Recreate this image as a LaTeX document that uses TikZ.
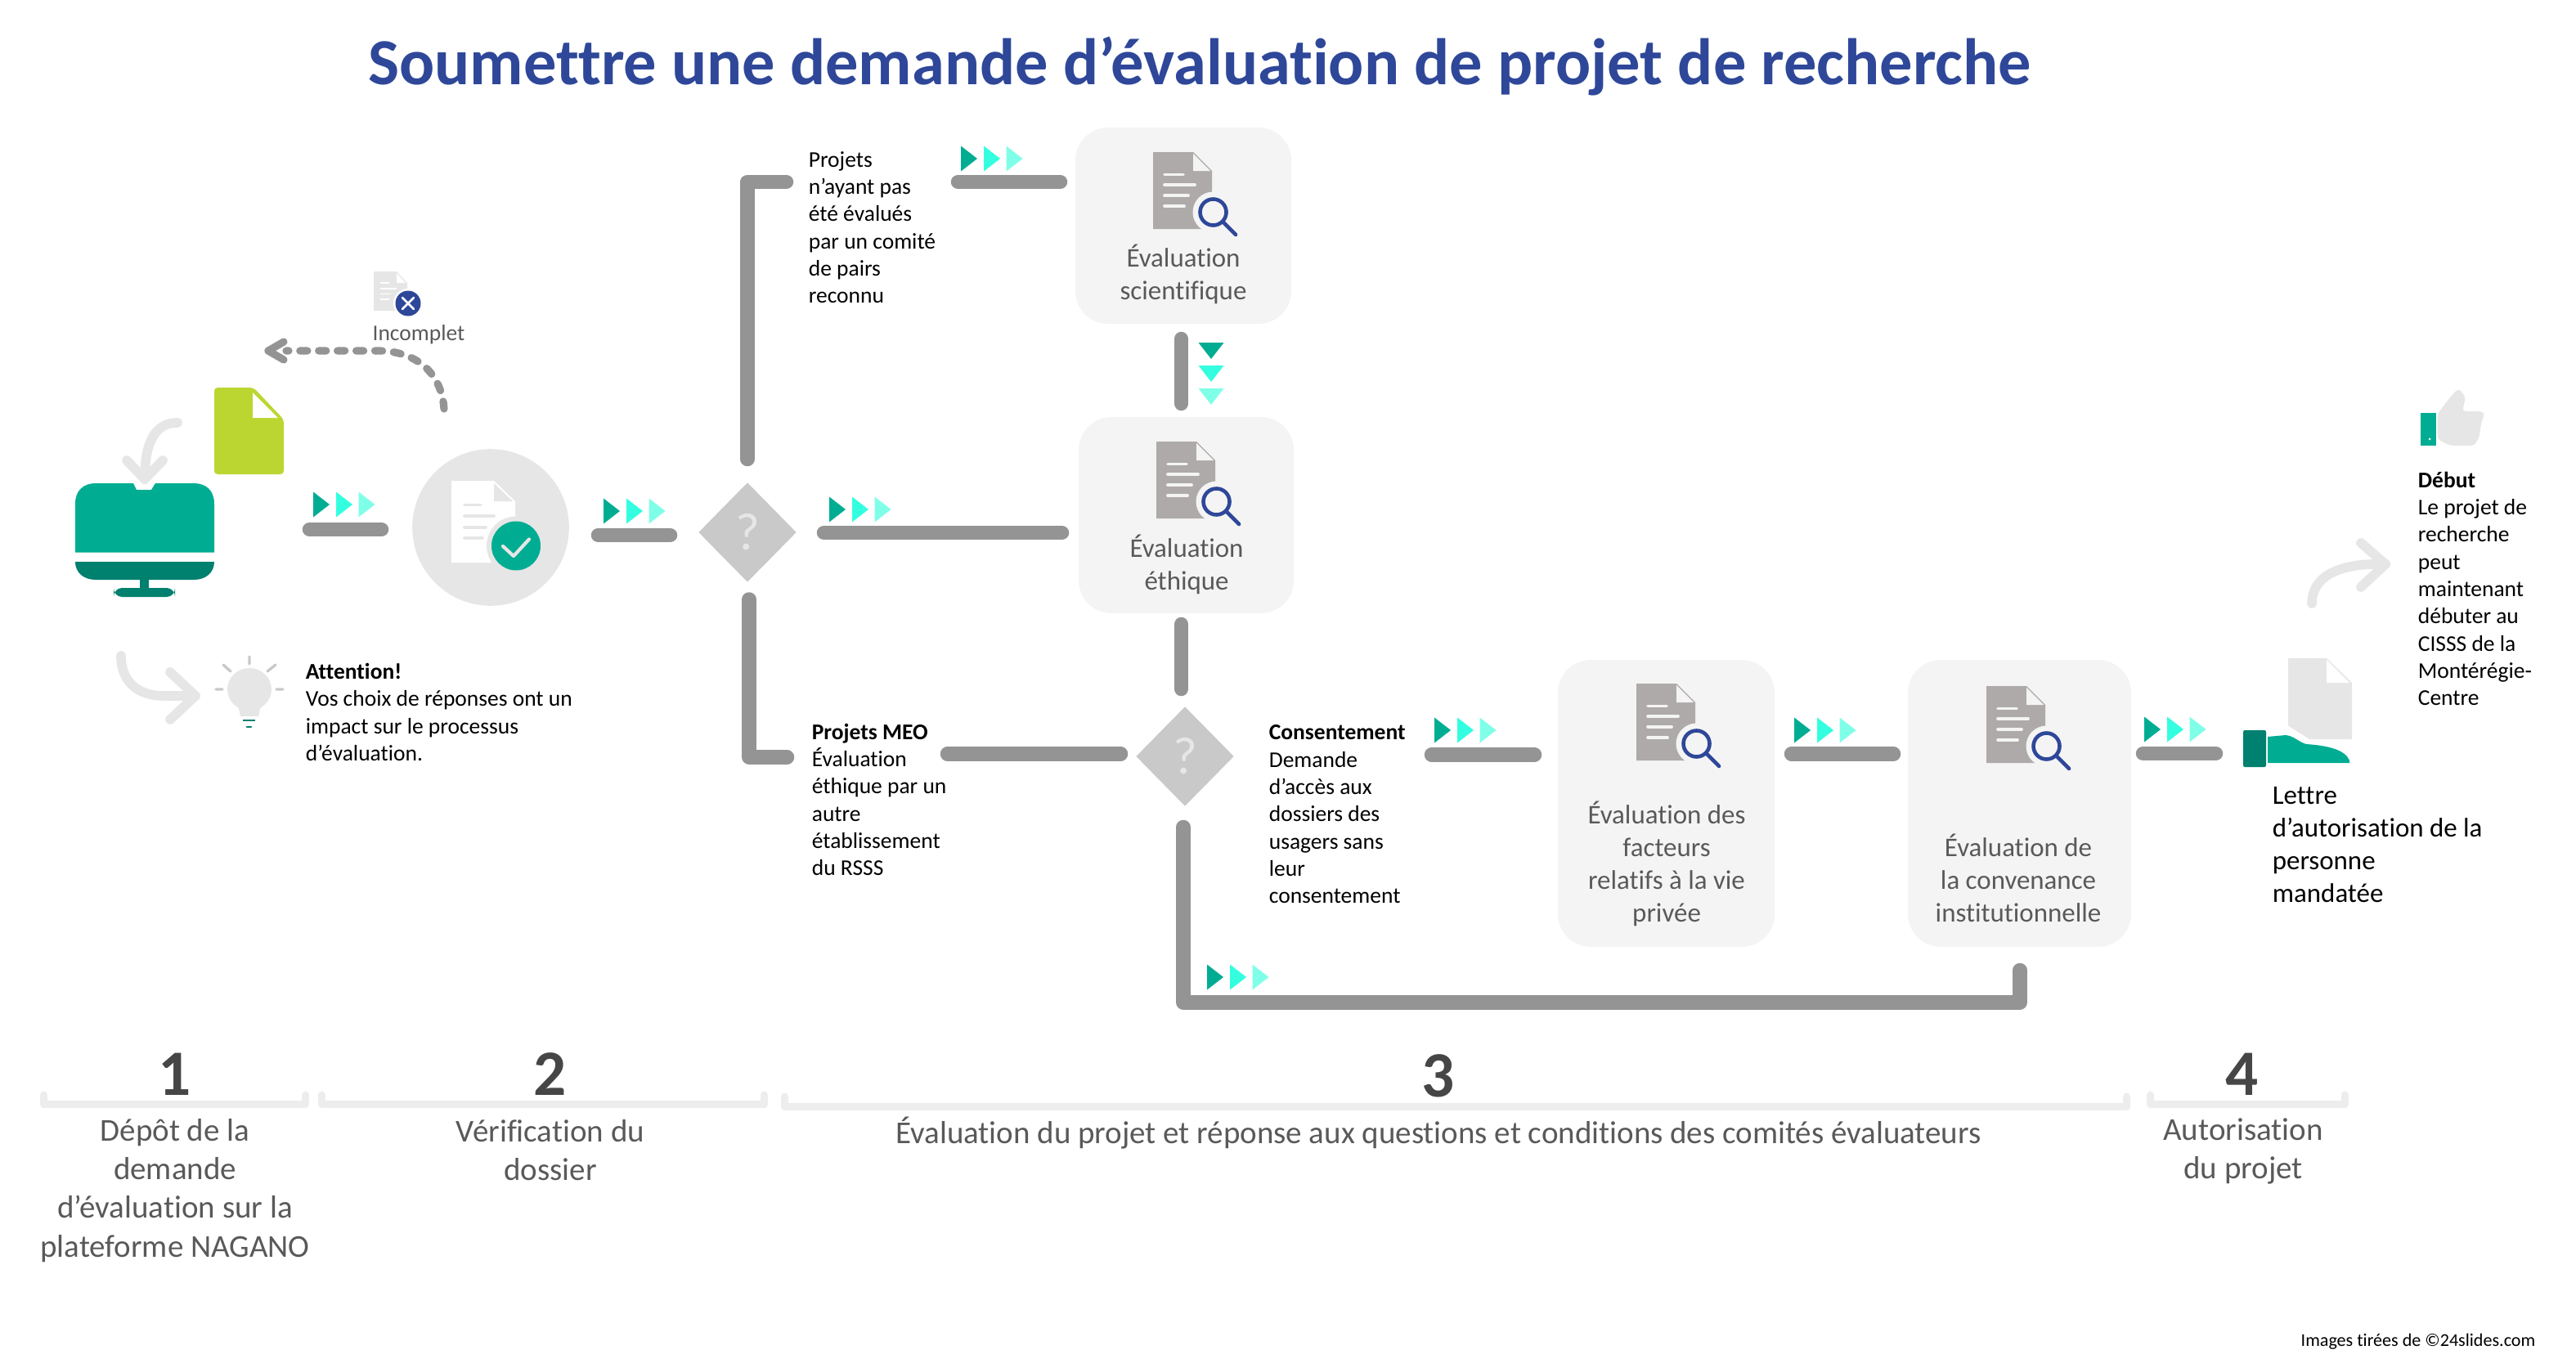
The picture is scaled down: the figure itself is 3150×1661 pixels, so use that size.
\documentclass[tikz,border=0pt]{standalone}
\usepackage{fontspec}
\setmainfont{Carlito}[Ligatures=NoCommon]
\usetikzlibrary{shapes.geometric}

\definecolor{tealA}{RGB}{0,173,147}
\definecolor{tealB}{RGB}{51,255,224}
\definecolor{tealC}{RGB}{128,255,232}
\definecolor{tealDark}{RGB}{0,128,110}
\definecolor{barGrey}{RGB}{148,148,148}
\definecolor{softGrey}{RGB}{230,230,230}
\definecolor{boxGrey}{RGB}{244,244,244}
\definecolor{braceGrey}{RGB}{237,237,237}
\definecolor{docGrey}{RGB}{174,170,169}
\definecolor{diamGrey}{RGB}{201,201,201}
\definecolor{textGrey}{RGB}{89,89,89}
\definecolor{numGrey}{RGB}{70,70,70}
\definecolor{navyBlue}{RGB}{46,71,153}
\definecolor{limeGreen}{RGB}{188,214,49}

\tikzset{
	barline/.style={draw=barGrey,line width=4.2pt,line cap=round,line join=round},
	softline/.style={draw=softGrey,line width=2.8pt,line cap=round,line join=round},
	dashline/.style={draw=barGrey,line width=2.2pt,line cap=round,line join=round},
	braceline/.style={draw=braceGrey,line width=2.2pt,line cap=round,line join=round},
	evalbox/.style={fill=boxGrey,rounded corners=9.6pt,inner sep=0pt},
	question/.style={diamond,fill=diamGrey,text=softGrey,inner sep=0pt,minimum width=28.8pt,minimum height=29.3pt,font=\fontsize{15.5}{16}\selectfont},
	smalltext/.style={anchor=west,align=left,inner sep=0pt,font=\fontsize{6.6}{8}\selectfont},
	boxtext/.style={align=center,inner sep=0pt,text=textGrey,font=\fontsize{7.9}{9.6}\selectfont},
	steptext/.style={align=center,inner sep=0pt,text=textGrey,font=\fontsize{9.35}{11.3}\selectfont},
	stepnum/.style={anchor=base,inner sep=0pt,text=numGrey,font=\fontsize{19}{20}\selectfont\bfseries},
}

% three triangles pointing right: left edge, middle height
\newcommand{\tripleright}[2]{
	\fill[tealA] (#1,#2-15.5) -- (#1+20,#2) -- (#1,#2+15.5) -- cycle;
	\fill[tealB] (#1+28,#2-15.5) -- (#1+48,#2) -- (#1+28,#2+15.5) -- cycle;
	\fill[tealC] (#1+55.5,#2-15.5) -- (#1+75.5,#2) -- (#1+55.5,#2+15.5) -- cycle;
}
% three triangles pointing down: middle, top edge
\newcommand{\tripledown}[2]{
	\fill[tealA] (#1-15.5,#2) -- (#1,#2+20) -- (#1+15.5,#2) -- cycle;
	\fill[tealB] (#1-15.5,#2+28) -- (#1,#2+48) -- (#1+15.5,#2+28) -- cycle;
	\fill[tealC] (#1-15.5,#2+56) -- (#1,#2+76) -- (#1+15.5,#2+56) -- cycle;
}
% document with magnifier: top left corner
\newcommand{\evaldoc}[2]{
	\begin{scope}[shift={(#1,#2)}]
		\fill[docGrey] (0,0) -- (49,0) -- (72,23) -- (72,94) -- (0,94) -- cycle;
		\fill[boxGrey] (49,2) -- (49,23) -- (70,23) -- cycle;
		\draw[boxGrey,line width=0.9pt,line cap=round] (14,27.5) -- (37,27.5) (14,40) -- (51,40) (14,53) -- (43,53) (14,66) -- (38,66);
		\fill[boxGrey] (73.5,73.5) circle (25);
		\draw[navyBlue,line width=1.1pt] (73.5,73.5) circle (16);
		\draw[navyBlue,line width=1.1pt,line cap=round] (85,85) -- (101,101);
	\end{scope}
}

\begin{document}
\begin{tikzpicture}[x=0.24pt,y=0.24pt,yscale=-1,xscale=1]
	\useasboundingbox (0,0) rectangle (3150,1661);

	% Title
	\node[anchor=base,inner sep=0pt,text=navyBlue,font=\fontsize{19.3}{24}\selectfont\bfseries] (title) at (1467,103) {Soumettre une demande d’évaluation de projet de recherche};

	% Monitor
	\fill[tealA] (92,675.5) -- (92,616) .. controls (92,600) and (102,591) .. (117,591) -- (163,591) -- (167,599) -- (185,599) -- (190,591) -- (237,591) .. controls (252,591) and (262,600) .. (262,616) -- (262,675.5) -- cycle;
	\fill[tealDark] (92,687) -- (262,687) .. controls (262,700) and (252,709) .. (237,709) -- (117,709) .. controls (102,709) and (92,700) .. (92,687) -- cycle;
	\fill[tealDark] (171,709) rectangle (182,720);
	\fill[tealDark,rounded corners=5pt/2] (139,719) rectangle (214,730);
	% Green document
	\fill[limeGreen,rounded corners=1pt] (262,474) -- (310,474) -- (347,513) -- (347,580) -- (262,580) -- cycle;
	\fill[white] (309,480) -- (309,511) -- (340,511) -- cycle;
	% Arrow into monitor
	\coordinate (inStart) at (217,517);
	\coordinate (inTip) at (177,586);
	\draw[softline] (inStart) .. controls (190,517) and (177,540) .. (inTip);
	\draw[softline] (155,563) -- (inTip) -- (199,563);

	% Step 2 circle
	\node[circle,fill=softGrey,minimum size=46pt,inner sep=0pt] (checkCircle) at (600,645) {};
	\fill[white] (552,588) -- (604,588) -- (630,613) -- (630,688) -- (552,688) -- cycle;
	\fill[softGrey] (604,591) -- (604,613) -- (627,613) -- cycle;
	\draw[softGrey,line width=0.9pt,line cap=round] (568,617.5) -- (588,617.5) (568,631) -- (604,631) (568,645) -- (594,645) (568,658) -- (590,658);
	\fill[softGrey] (631,667.5) circle (36);
	\fill[tealA] (631,667.5) circle (30);
	\draw[softGrey,line width=1pt,line cap=round,line join=round] (615,668) -- (628,680) -- (647,659.5);

	% Incomplet
	\fill[softGrey] (457,332) -- (485,332) -- (498,346) -- (498,380) -- (457,380) -- cycle;
	\fill[white] (485,334) -- (485,346) -- (496,346) -- cycle;
	\draw[white,line width=0.4pt] (465,346) -- (476,346) (465,353) -- (485,353) (465,359.5) -- (478,359.5) (465,366) -- (476,366);
	\fill[white] (499,371) circle (18);
	\fill[navyBlue] (499,371) circle (15.5);
	\draw[white,line width=0.6pt,line cap=round] (492,364) -- (506,378) (506,364) -- (492,378);
	\node[inner sep=0pt,text=textGrey,font=\fontsize{6.6}{8}\selectfont] (lblIncomplet) at (512,409) {Incomplet};
	%Dashed return arrow
	\coordinate (backStart) at (543,500);
	\coordinate (backBend) at (462,429);
	\coordinate (backTip) at (328,429);
	\draw[dashline,dash pattern=on 2.2pt off 3.3pt] (backStart) .. controls (540,457) and (510,429) .. (backBend) -- (350,429);
	\draw[dashline] (347,418) -- (backTip) -- (347,440);

	% Attention
	\coordinate (warnStart) at (148,802);
	\coordinate (warnTip) at (239,851);
	\draw[softline] (warnStart) .. controls (148,835) and (170,851) .. (200,851) -- (warnTip);
	\draw[softline] (208,822) -- (warnTip) -- (208,880);
	\fill[softGrey] (305,843) ellipse (27 and 26);
	\fill[softGrey] (291,862) -- (294,876) -- (316,876) -- (319,862) -- cycle;
	\draw[diamGrey,line width=0.8pt,line cap=round] (305,803) -- (305,812) (273,813) -- (282,821) (337,813) -- (327,821) (264,843) -- (272,843) (338,843) -- (346,843);
	\draw[tealDark,line width=0.7pt] (297,881) -- (312,881);
	\draw[tealDark,line width=0.7pt,line cap=round] (302,889) -- (307,889);
	\node[smalltext] (lblAttention) at (373,871) {\textbf{Attention!}\\Vos choix de réponses ont un\\impact sur le processus\\d’évaluation.};

	% Bars before the first question
	\tripleright{383}{617}
	\coordinate (barA1) at (378.5,647.5);
	\coordinate (barA2) at (466.5,647.5);
	\draw[barline] (barA1) -- (barA2);
	\tripleright{738}{625}
	\coordinate (barB1) at (731.5,654.5);
	\coordinate (barB2) at (819.5,654.5);
	\draw[barline] (barB1) -- (barB2);

	% First question
	\node[question] (askOne) at (914,651) {?};
	\coordinate (upStart) at (914,561.5);
	\coordinate (upEnd) at (961.5,222.5);
	\draw[barline] (upStart) |- (upEnd);
	\coordinate (lowStart) at (916,733);
	\coordinate (lowEnd) at (962.5,926);
	\draw[barline] (lowStart) |- (lowEnd);
	\coordinate (midStart) at (1007.5,651.5);
	\coordinate (midEnd) at (1298.5,651.5);
	\draw[barline] (midStart) -- (midEnd);
	\tripleright{1014}{623}
	\node[smalltext] (lblPairs) at (988,278) {Projets\\n’ayant pas\\été évalués\\par un comité\\de pairs\\reconnu};
	\node[smalltext] (lblMeo) at (992,978) {\textbf{Projets MEO}\\Évaluation\\éthique par un\\autre\\établissement\\du RSSS};

	% Scientific evaluation
	\tripleright{1175}{194}
	\coordinate (sciStart) at (1171.5,222.5);
	\coordinate (sciEnd) at (1296.5,222.5);
	\draw[barline] (sciStart) -- (sciEnd);
	\node[evalbox,minimum width=63.4pt,minimum height=57.6pt] (boxSci) at (1447,276) {};
	\evaldoc{1410}{186}
	\node[boxtext] (lblSci) at (1447,335) {Évaluation\\scientifique};
	\coordinate (sciDown1) at (1444.5,414.5);
	\coordinate (sciDown2) at (1444.5,493.5);
	\draw[barline] (sciDown1) -- (sciDown2);
	\tripledown{1481}{419}

	% Ethics evaluation
	\node[evalbox,minimum width=63.1pt,minimum height=57.6pt] (boxEth) at (1450.5,630) {};
	\evaldoc{1414}{540}
	\node[boxtext] (lblEth) at (1451,690) {Évaluation\\éthique};
	\coordinate (ethDown1) at (1444.5,763.5);
	\coordinate (ethDown2) at (1444.5,842.5);
	\draw[barline] (ethDown1) -- (ethDown2);

	% Second question
	\node[question] (askTwo) at (1449,925) {?};
	\coordinate (meoStart) at (1158.5,922);
	\coordinate (meoEnd) at (1370.5,922);
	\draw[barline] (meoStart) -- (meoEnd);
	\node[smalltext] (lblCons) at (1551,996) {\textbf{Consentement}\\Demande\\d’accès aux\\dossiers des\\usagers sans\\leur\\consentement};
	\coordinate (loopStart) at (1447,1011.5);
	\coordinate (loopLeft) at (1447,1226);
	\coordinate (loopRight) at (2470,1226);
	\coordinate (loopEnd) at (2470,1186.5);
	\draw[barline] (loopStart) -- (loopLeft) -- (loopRight) -- (loopEnd);
	\tripleright{1476}{1195}

	% Privacy evaluation
	\tripleright{1754}{893}
	\coordinate (consStart) at (1750.5,923);
	\coordinate (consEnd) at (1876.5,923);
	\draw[barline] (consStart) -- (consEnd);
	\node[evalbox,minimum width=63.6pt,minimum height=84.2pt] (boxPriv) at (2037.5,982.5) {};
	\evaldoc{2001}{836}
	\node[boxtext] (lblPriv) at (2038,1056) {Évaluation des\\facteurs\\relatifs à la vie\\privée};

	% Institutional evaluation
	\tripleright{2194}{893}
	\coordinate (privStart) at (2190.5,922);
	\coordinate (privEnd) at (2315.5,922);
	\draw[barline] (privStart) -- (privEnd);
	\node[evalbox,minimum width=65.5pt,minimum height=84.2pt] (boxInst) at (2469.5,982.5) {};
	\evaldoc{2429}{839}
	\node[boxtext] (lblInst) at (2468,1074) {Évaluation de\\la convenance\\institutionnelle};

	% Letter
	\tripleright{2622}{892}
	\coordinate (instStart) at (2620.5,921.5);
	\coordinate (instEnd) at (2709.5,921.5);
	\draw[barline] (instStart) -- (instEnd);
	\fill[softGrey] (2798,805) -- (2845,805) -- (2876,835) -- (2876,904) -- (2824,904) -- (2798,887.5) -- cycle;
	\fill[white] (2845,807) -- (2845,835) -- (2873,835) -- cycle;
	\fill[tealDark,rounded corners=0.5pt] (2743,893) rectangle (2771,938);
	\fill[tealA] (2773,901) -- (2795,899) .. controls (2805,900) and (2812,908) .. (2820,910) .. controls (2850,912) and (2868,918) .. (2873,930) -- (2873,933) -- (2773,933) -- cycle;
	\node[anchor=west,align=left,inner sep=0pt,font=\fontsize{7.9}{9.6}\selectfont] (lblLettre) at (2778,1033) {Lettre\\d’autorisation de la\\personne\\mandatée};

	% Arrow to start
	\coordinate (goStart) at (2827,738);
	\coordinate (goTip) at (2917,690);
	\draw[softline] (goStart) .. controls (2827,705) and (2860,688) .. (goTip);
	\draw[softline] (2887,664) -- (goTip) -- (2887,718);

	% Thumb
	\fill[tealA] (2959.5,505) rectangle (2979,545);
	\fill[white] (2971,537) circle (1.5);
	\fill[softGrey,rounded corners=1pt] (2980.5,506) -- (3000,481) -- (3007,475) -- (3015,486) -- (3011,503) -- (3036,503) -- (3038,508) -- (3034,517) -- (3032,533) -- (3026,545) -- (2996,545) -- (2980.5,537) -- cycle;
	\node[smalltext] (lblDebut) at (2956,720) {\textbf{Début}\\Le projet de\\recherche\\peut\\maintenant\\débuter au\\CISSS de la\\Montérégie-\\Centre};

	% Steps
	\draw[braceline] (53.5,1339) -- (53.5,1350.5) -- (373.5,1350.5) -- (373.5,1339);
	\draw[braceline] (393.5,1339) -- (393.5,1350.5) -- (934.5,1350.5) -- (934.5,1339);
	\draw[braceline] (959.5,1341) -- (959.5,1353.5) -- (2600.5,1353.5) -- (2600.5,1341);
	\draw[braceline] (2629.5,1339) -- (2629.5,1350.5) -- (2867.5,1350.5) -- (2867.5,1339);
	\node[stepnum] (numOne) at (214,1339) {1};
	\node[stepnum] (numTwo) at (673,1339) {2};
	\node[stepnum] (numThree) at (1759,1341) {3};
	\node[stepnum] (numFour) at (2742,1339) {4};
	\node[steptext] (stepOne) at (214,1456) {Dépôt de la\\demande\\d’évaluation sur la\\plateforme NAGANO};
	\node[steptext] (stepTwo) at (673,1407) {Vérification du\\dossier};
	\node[steptext] (stepThree) at (1759,1386) {Évaluation du projet et réponse aux questions et conditions des comités évaluateurs};
	\node[steptext] (stepFour) at (2743,1408) {Autorisation\\du projet};

	% Text Node
	\node[anchor=east,inner sep=0pt,font=\fontsize{5.3}{6}\selectfont] (source) at (3101,1641) {Images tirées de ©24slides.com};
\end{tikzpicture}
\end{document}
